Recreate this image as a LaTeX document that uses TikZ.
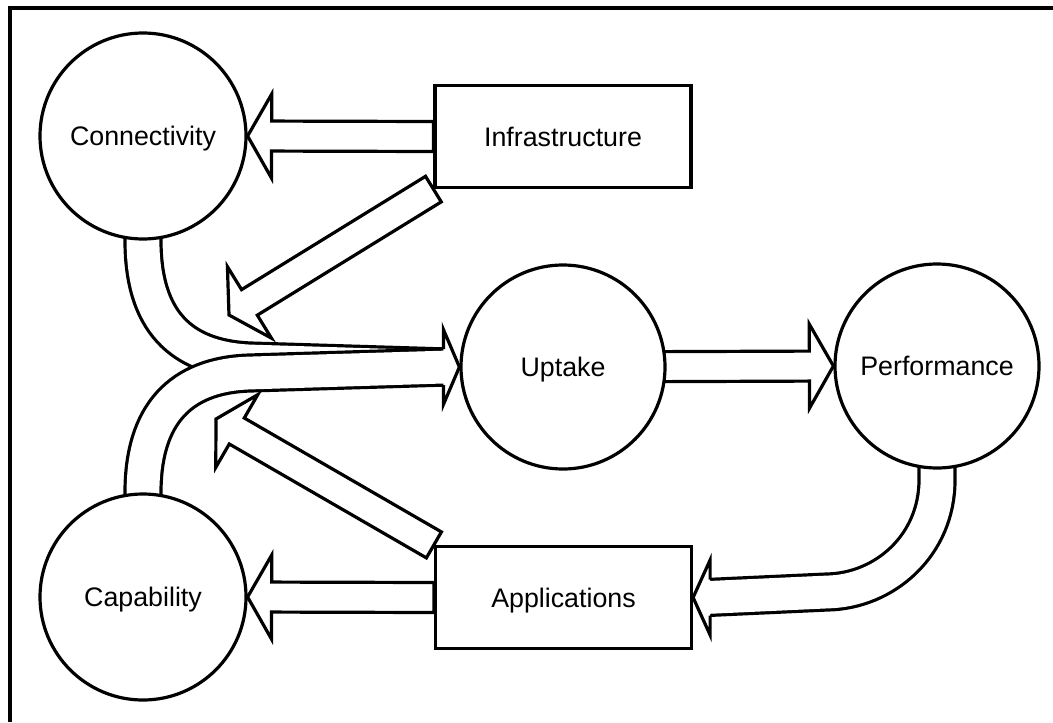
\documentclass[tikz,border=0pt]{standalone}
\usepackage{fontspec}
\setmainfont{Liberation Sans}
\usetikzlibrary{positioning, calc, backgrounds}

% sizes of the hollow arrows
\newcommand{\shafthalf}{7.5pt}
\newcommand{\headhalf}{21pt}
\newcommand{\headlen}{12pt}
\newcommand{\tubehalf}{9pt}
\newcommand{\tubeheadhalf}{18.75pt}

\tikzset{
  outline/.style={line width=1.6pt, line join=miter},
  label text/.style={text height=9.6pt, text depth=0pt},
  stage/.style={circle, draw, line width=1.6pt, fill=white, minimum size=#1, inner sep=0pt, label text},
  stage/.default=103pt,
  driver/.style={rectangle, draw, line width=1.6pt, fill=white, minimum width=128pt, minimum height=51pt, label text},
  tube/.style={double=white, double distance=16.4pt, line width=1.6pt},
}

% straight block arrow, tail #1, tip #2
\newcommand{\blockarrow}[2]{%
  \coordinate (hb) at ($(#2)!\headlen!(#1)$);
  \draw[outline, fill=white]
    ($(#1)!\shafthalf!90:(#2)$) -- ($(hb)!\shafthalf!90:(#2)$)
    -- ($(hb)!\headhalf!90:(#2)$) -- (#2)
    -- ($(hb)!\headhalf!-90:(#2)$) -- ($(hb)!\shafthalf!-90:(#2)$)
    -- ($(#1)!\shafthalf!-90:(#2)$) -- cycle;
}

% open head for a bent tube, back #1, tip #2
\newcommand{\tubehead}[2]{%
  \fill[white] ($(#1)!\tubeheadhalf!90:(#2)$) -- (#2) -- ($(#1)!\tubeheadhalf!-90:(#2)$) -- cycle;
  \draw[outline]
    ($(#1)!\tubehalf!90:(#2)$) -- ($(#1)!\tubeheadhalf!90:(#2)$) -- (#2)
    -- ($(#1)!\tubeheadhalf!-90:(#2)$) -- ($(#1)!\tubehalf!-90:(#2)$);
}

\begin{document}
\begin{tikzpicture}[x=0.5pt, y=-0.5pt, font=\fontsize{13.4}{16}\selectfont]
  \useasboundingbox (0,0) rectangle (1053,722);
  % frame
  \draw[line width=2pt] (10,722) -- (10,8) -- (1053,8);

  % circles and boxes
  \node[stage] (conn) at (143,136) {Connectivity};
  \node[stage] (cap) at (143,597) {Capability};
  \node[stage=102pt] (up) at (563,367) {Uptake};
  \node[stage=102pt] (perf) at (937,366) {Performance};
  \node[driver] (infra) at (563,136.5) {Infrastructure};
  \node[driver] (app) at (563.5,597.5) {Applications};

  \begin{scope}[on background layer]
    % two bent tubes joining into Uptake (ends tucked under the head)
    \coordinate (upback) at ($(up.west)+(-16,0)$);
    \coordinate (upend) at ($(up.west)+(-13,0)$);
    \draw[tube] (conn.center) -- (conn.south)
      .. controls (143,320) and (180,358) .. (250,361) -- (upend);
    \draw[tube] (cap.center) -- (cap.north)
      .. controls (143,415) and (180,375) .. (250,373) -- (upend);
    \tubehead{upback}{up.west}

    % Performance back round to Applications
    \coordinate (appback) at ($(app.east)+(17,0)$);
    \coordinate (append) at ($(app.east)+(14,0)$);
    \draw[tube] (perf.center) -- (perf.south) -- (937,480)
      .. controls (937,545) and (885,591) .. (827,592) -- (append);
    \tubehead{appback}{app.east}

    % straight ones
    \blockarrow{infra.west}{conn.east}
    \blockarrow{app.west}{cap.east}
    \blockarrow{up.center}{perf.west}
    \coordinate (infratip) at (229,315);
    \coordinate (apptip) at (216,419);
    \blockarrow{infra.south west}{infratip}
    \blockarrow{app.north west}{apptip}
  \end{scope}
\end{tikzpicture}
\end{document}
